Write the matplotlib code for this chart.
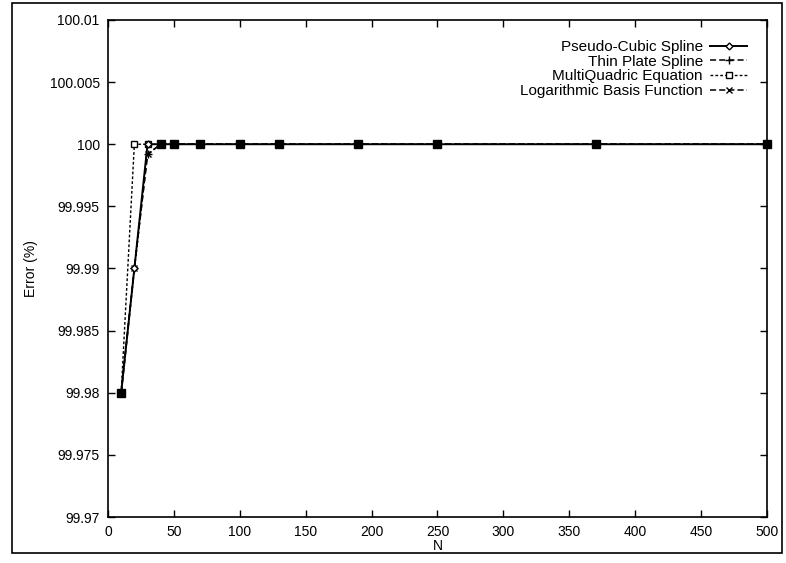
"""
Error versus N for the four interpolation schemes (gnuplot-style figure).
"""
import matplotlib
matplotlib.use("Agg")
import matplotlib.pyplot as plt
from matplotlib.patches import Rectangle

plt.rcParams['font.family'] = ['Liberation Sans', 'DejaVu Sans']

n_values = [10, 20, 30, 40, 50, 70, 100, 130, 190, 250, 370, 500]
pseudo_cubic = [99.98, 99.99, 100, 100, 100, 100, 100, 100, 100, 100, 100, 100]
thin_plate = [99.98, 99.99, 99.9992, 100, 100, 100, 100, 100, 100, 100, 100, 100]
multiquadric = [99.98, 100, 100, 100, 100, 100, 100, 100, 100, 100, 100, 100]
logarithmic = [99.98, 99.99, 99.9992, 100, 100, 100, 100, 100, 100, 100, 100, 100]

x_ticks = [0, 50, 100, 150, 200, 250, 300, 350, 400, 450, 500]
y_ticks = [99.97, 99.975, 99.98, 99.985, 99.99, 99.995, 100, 100.005, 100.01]
y_tick_labels = ["99.97", "99.975", "99.98", "99.985", "99.99", "99.995", "100", "100.005", "100.01"]

fig = plt.figure(figsize=(7.86, 5.63), dpi=100)
ax = fig.add_axes([0.1374, 0.0817, 0.8384, 0.8828])

ax.plot(n_values, pseudo_cubic, color="black", lw=1.4, ls="-", marker="D", ms=3.5,
        mfc="white", mec="black", label="Pseudo-Cubic Spline", clip_on=False, zorder=4)
ax.plot(n_values, thin_plate, color="black", lw=1.1, ls=(0, (4, 2)), marker="+", ms=6,
        label="Thin Plate Spline", clip_on=False)
ax.plot(n_values, multiquadric, color="black", lw=1.0, ls=(0, (2, 1.5)), marker="s", ms=5,
        mfc="white", mec="black", label="MultiQuadric Equation", clip_on=False)
ax.plot(n_values, logarithmic, color="black", lw=1.1, ls=(0, (4, 2)), marker="x", ms=5,
        label="Logarithmic Basis Function", clip_on=False)

# overlapping markers show up as filled squares in the original
ax.plot(n_values[3:], pseudo_cubic[3:], ls="none", marker="s", ms=6, color="black",
        clip_on=False, zorder=5)
ax.plot(n_values[:1], pseudo_cubic[:1], ls="none", marker="s", ms=6, color="black",
        clip_on=False, zorder=5)

ax.set_xlim(0, 500)
ax.set_ylim(99.97, 100.01)
ax.set_xticks(x_ticks)
ax.set_yticks(y_ticks)
ax.set_yticklabels(y_tick_labels)
ax.tick_params(direction="in", top=True, right=True, length=5, width=1, labelsize=10, pad=6)
for sp in ax.spines.values():
    sp.set_linewidth(1.2)

ax.set_xlabel("N", fontsize=10, labelpad=0)
ax.set_ylabel("Error (%)", fontsize=10, labelpad=8)

ax.legend(loc="upper right", frameon=False, markerfirst=False, fontsize=11,
          handlelength=2.4, labelspacing=0.05, borderaxespad=0.9, handletextpad=0.5)

fig.patches.append(Rectangle((0.0153, 0.0178), 0.98, 0.977, transform=fig.transFigure,
                             fill=False, ec="black", lw=1.2))

fig.savefig("out.png", dpi=100)
